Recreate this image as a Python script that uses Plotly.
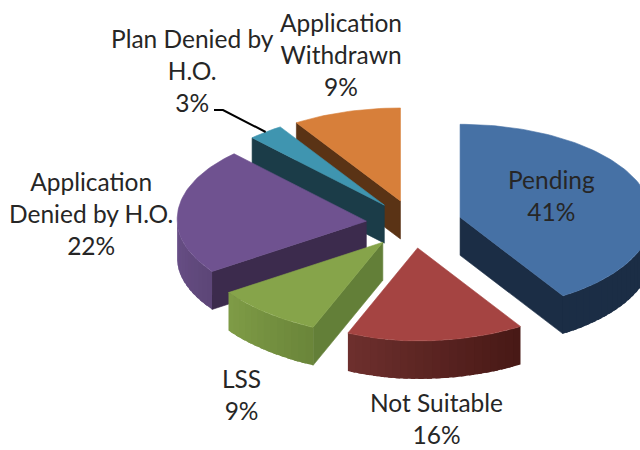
import math
import plotly.graph_objects as go

# ---- data ----
categories = ["Pending", "Not Suitable", "LSS", "Application<br>Denied by H.O.",
              "Plan Denied by<br>H.O.", "Application<br>Withdrawn"]
values = [41.0, 15.6, 9.3, 22.0, 3.0, 9.1]

# ---- styles ----
top_colors = ["#4671A5", "#A54442", "#86A44A", "#6F5290", "#3F95B0", "#D77F3A"]
wall_colors = ["#1B2D45", "#4A1A18", "#637F38", "#3C2B4D", "#1B3C48", "#5A3315"]
rim_left = ["#1B2D45", "#6E302E", "#7F9C47", "#6A5088", "#1B3C48", "#5A3315"]
rim_right = ["#1B2D45", "#471815", "#6A8539", "#5C4677", "#1B3C48", "#5A3315"]
label_pos = [(551, 195), (436, 418), (241, 394), (91, 213), (192, 70), (341, 54)]
draw_order = [5, 4, 3, 2, 1, 0]

CX, CY, RX, RY, EX, EY, DEPTH = 414, 224, 192, 93, 48, 24, 38
FONT = dict(family="Lato, Carlito, sans-serif", size=24.5, color="#262626")

fig = go.Figure()


def hexmix(a, b, t):
    ca = [int(a[i:i + 2], 16) for i in (1, 3, 5)]
    cb = [int(b[i:i + 2], 16) for i in (1, 3, 5)]
    return "#%02X%02X%02X" % tuple(round(p + (q - p) * t) for p, q in zip(ca, cb))


def poly(xs, ys, color, width=0.6):
    fig.add_trace(go.Scatter(x=xs, y=ys, mode="lines", fill="toself", fillcolor=color,
                             line=dict(color=color, width=width), hoverinfo="skip",
                             showlegend=False))


def rim_pt(vx, vy, ang):
    r = math.radians(ang)
    s, c = math.sin(r), math.cos(r)
    # the left half of the reference's projected disc is slightly narrower
    f = 1.0
    if s < 0:
        f = 0.985 - 0.10 * c * c if c < 0 else 0.985 + 0.02 * c
    return vx + RX * f * s, vy - RY * c


total = sum(values)
starts, ends, acc = [], [], 0.0
for v in values:
    starts.append(acc / total * 360)
    acc += v
    ends.append(acc / total * 360)

geom = {}
for i in draw_order:
    a, b = starts[i], ends[i]
    m = math.radians((a + b) / 2)
    vx, vy = CX + EX * math.sin(m), CY - EY * math.cos(m)
    geom[i] = (vx, vy)

    # cut walls
    for ang, visible in ((b, 0 < b < 180), (a, 180 < a < 360)):
        if visible:
            ex, ey = rim_pt(vx, vy, ang)
            poly([vx, ex, ex, vx, vx], [vy, ey, ey + DEPTH, vy + DEPTH, vy], wall_colors[i])

    # outer rim, drawn as thin shaded strips that overlap to hide seams
    lo, hi = max(a, 90), min(b, 270)
    if hi > lo:
        n = max(2, int((hi - lo) / 2.5))
        for k in range(n):
            t0 = lo + (hi - lo) * k / n
            t1 = min(hi, lo + (hi - lo) * (k + 1.6) / n)
            x0, y0 = rim_pt(vx, vy, t0)
            x1, y1 = rim_pt(vx, vy, t1)
            col = hexmix(rim_right[i], rim_left[i], (k + 0.5) / n)
            poly([x0, x1, x1, x0, x0], [y0, y1, y1 + DEPTH, y0 + DEPTH, y0], col, width=0)

    # top face
    n = max(4, int((b - a) / 1.5))
    pts = [rim_pt(vx, vy, a + (b - a) * k / n) for k in range(n + 1)]
    poly([vx] + [p[0] for p in pts] + [vx], [vy] + [p[1] for p in pts] + [vy], top_colors[i])

# labels
for name, v, (lx, ly) in zip(categories, values, label_pos):
    fig.add_annotation(x=lx, y=ly, text=f"{name}<br>{round(v)}%", showarrow=False,
                       font=FONT, align="center", xanchor="center", yanchor="middle")

# leader line for the small slice
i_small = values.index(min(values))
ex, ey = rim_pt(*geom[i_small], (starts[i_small] + ends[i_small]) / 2)
lx, ly = label_pos[i_small]
fig.add_trace(go.Scatter(x=[lx + 22, lx + 31, ex], y=[ly + 40, ly + 40, ey], mode="lines",
                         line=dict(color="#000000", width=2), hoverinfo="skip",
                         showlegend=False))

fig.update_layout(
    width=640, height=450, margin=dict(l=0, r=0, t=0, b=0),
    paper_bgcolor="white", plot_bgcolor="white", showlegend=False,
    xaxis=dict(range=[0, 640], visible=False, fixedrange=True),
    yaxis=dict(range=[450, 0], visible=False, fixedrange=True),
)
fig.write_html("out.html", config=dict(displayModeBar=False),
               post_script="document.body.style.margin='0';")
